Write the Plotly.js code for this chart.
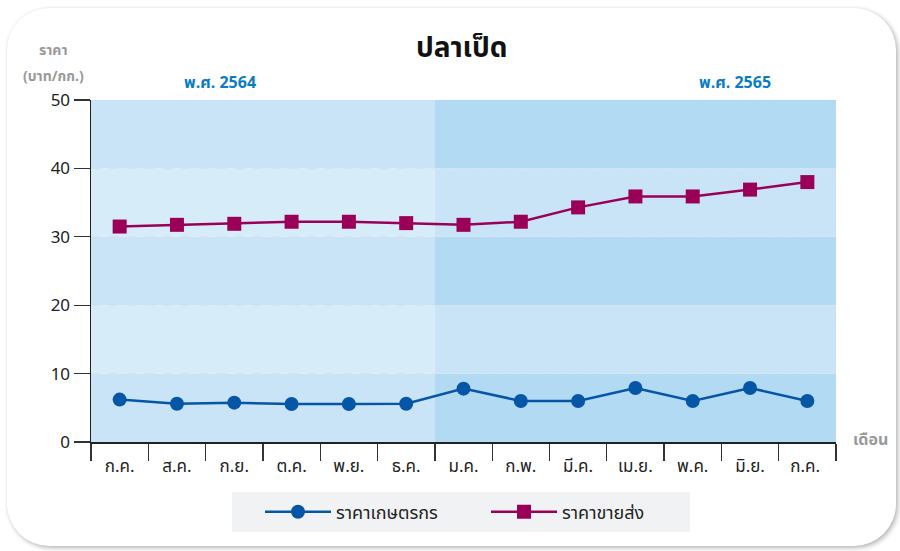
<!DOCTYPE html>
<html>
<head>
<meta charset="utf-8">
<script src="https://cdn.plot.ly/plotly-3.0.1.min.js"></script>
<style>
  html, body { margin: 0; padding: 0; background: #ffffff; }
  #wrap { position: relative; width: 900px; height: 551px; overflow: hidden; }
  #card { position: absolute; left: 7px; top: 8px; width: 889px; height: 538px;
          border-radius: 42px; background: #fff;
          box-shadow: 2px 2px 5px rgba(0,0,0,0.28), 0 0 3px rgba(0,0,0,0.06); }
  #chart { position: absolute; left: 0; top: 0; width: 900px; height: 551px; }
</style>
</head>
<body>
<div id="wrap">
  <div id="card"></div>
  <div id="chart"></div>
</div>
<script>
const months = ["ก.ค.", "ส.ค.", "ก.ย.", "ต.ค.", "พ.ย.", "ธ.ค.", "ม.ค.", "ก.พ.", "มี.ค.", "เม.ย.", "พ.ค.", "มิ.ย.", "ก.ค. "];
const farmPrice = [6.2, 5.6, 5.75, 5.55, 5.55, 5.6, 7.8, 6.0, 6.0, 7.9, 6.0, 7.9, 6.0];
const wholesalePrice = [31.5, 31.75, 31.9, 32.2, 32.2, 32.0, 31.75, 32.2, 34.3, 35.9, 35.9, 36.9, 38.0];
const seriesNames = ["ราคาเกษตรกร", "ราคาขายส่ง"];
const yearLabels = ["พ.ศ. 2564", "พ.ศ. 2565"];
const yTicks = [0, 10, 20, 30, 40, 50];

const FONT = "Tahoma, 'Noto Sans Thai', 'Noto Sans', 'DejaVu Sans', sans-serif";
const BLUE = "#0656a8";
const MAG = "#9b0058";

const traces = [
  { x: months, y: farmPrice, name: seriesNames[0], type: "scatter", mode: "lines+markers",
    line: { color: BLUE, width: 2.5 }, marker: { symbol: "circle", size: 14, color: BLUE } },
  { x: months, y: wholesalePrice, name: seriesNames[1], type: "scatter", mode: "lines+markers",
    line: { color: MAG, width: 2.5 }, marker: { symbol: "square", size: 14, color: MAG } }
];

function px(x) { return (x - 91) / 745; }
function py(y) { return (442 - y) / 342; }

// background bands
const split = 6 / 13;
const shapes = [];
const leftCols = ["#c8e4f6", "#d7ecf9"];
const rightCols = ["#b3daf3", "#c8e4f6"];
for (let i = 0; i < 5; i++) {
  shapes.push({ type: "rect", xref: "paper", yref: "y", x0: 0, x1: split, y0: i * 10, y1: (i + 1) * 10,
    fillcolor: leftCols[i % 2], line: { width: 0 }, layer: "below" });
  shapes.push({ type: "rect", xref: "paper", yref: "y", x0: split, x1: 1, y0: i * 10, y1: (i + 1) * 10,
    fillcolor: rightCols[i % 2], line: { width: 0 }, layer: "below" });
}
// legend background panel
shapes.push({ type: "rect", xref: "paper", yref: "paper", x0: px(232), x1: px(690), y0: py(532), y1: py(492),
  fillcolor: "#f1f2f4", line: { width: 0 }, layer: "below" });

const layout = {
  width: 900, height: 551,
  margin: { l: 91, r: 64, t: 100, b: 109 },
  paper_bgcolor: "rgba(0,0,0,0)",
  plot_bgcolor: "rgba(0,0,0,0)",
  font: { family: FONT, color: "#222" },
  title: { text: "<b>ปลาเป็ด</b>", x: 0.513, xanchor: "center", y: 0.915, yanchor: "middle",
           font: { size: 28, color: "#111", family: FONT } },
  showlegend: true,
  legend: { orientation: "h", x: px(260), xanchor: "left", y: py(512), yanchor: "middle",
            bgcolor: "rgba(0,0,0,0)", font: { size: 18, color: "#222" },
            entrywidth: 145, itemwidth: 66, borderwidth: 0 },
  xaxis: {
    type: "category", tickson: "boundaries", ticks: "outside", ticklen: 17, tickwidth: 1.3,
    tickcolor: "#333", showline: true, linecolor: "#222", linewidth: 1.5, showgrid: false,
    tickfont: { size: 17, color: "#222" }, fixedrange: true, range: [-0.5, 12.5],
    ticklabelstandoff: 8
  },
  yaxis: {
    range: [0, 50], tickvals: yTicks, ticks: "outside", ticklen: 16, tickwidth: 1.3, tickcolor: "#333",
    showline: true, linecolor: "#222", linewidth: 1.5, zeroline: false,
    showgrid: true, gridcolor: "#dce2e9", griddash: "dash", gridwidth: 1.3,
    tickfont: { size: 17, color: "#222" }, fixedrange: true
  },
  shapes: shapes,
  annotations: [
    { text: "<b>" + yearLabels[0] + "</b>", xref: "paper", yref: "paper", x: px(220), y: py(83),
      xanchor: "center", yanchor: "middle", showarrow: false, font: { size: 16, color: "#0a7cc4" } },
    { text: "<b>" + yearLabels[1] + "</b>", xref: "paper", yref: "paper", x: px(735), y: py(83),
      xanchor: "center", yanchor: "middle", showarrow: false, font: { size: 16, color: "#0a7cc4" } },
    { text: "<b>ราคา</b>", xref: "paper", yref: "paper", x: px(53), y: py(50),
      xanchor: "center", yanchor: "middle", showarrow: false, font: { size: 14, color: "#999" } },
    { text: "<b>(บาท/กก.)</b>", xref: "paper", yref: "paper", x: px(53), y: py(76),
      xanchor: "center", yanchor: "middle", showarrow: false, font: { size: 14, color: "#999" } },
    { text: "<b>เดือน</b>", xref: "paper", yref: "paper", x: px(870), y: py(440),
      xanchor: "center", yanchor: "middle", showarrow: false, font: { size: 16, color: "#999" } }
  ]
};

Plotly.newPlot("chart", traces, layout, { displayModeBar: false, staticPlot: true });
</script>
</body>
</html>
